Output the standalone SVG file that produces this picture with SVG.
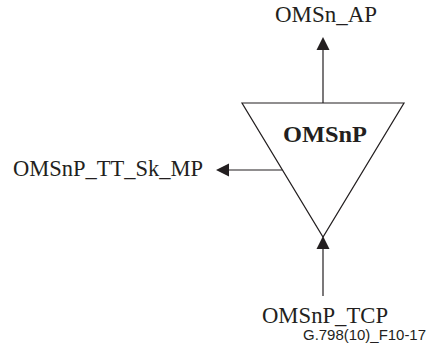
<svg xmlns="http://www.w3.org/2000/svg" width="435" height="351" viewBox="0 0 435 351">
<style>
.lbl{font-family:"Liberation Serif","Times New Roman",serif;font-size:22.5px;fill:#231f20}
.b{font-weight:bold;font-size:23px}
.ref{font-family:"Liberation Sans",Arial,sans-serif;font-size:15px;fill:#231f20}
.ln{stroke:#231f20;stroke-width:1.2;fill:none}
.ah{fill:#231f20}
</style>
<rect width="435" height="351" fill="#fff"/>
<g id="node-omsnp">
<polygon class="ln" points="242,103 404,103 323,237"/>
<text class="lbl b" x="325" y="142" text-anchor="middle" textLength="84" lengthAdjust="spacingAndGlyphs">OMSnP</text>
</g>
<g id="label-ap"><text class="lbl" x="275" y="22" textLength="102" lengthAdjust="spacingAndGlyphs">OMSn_AP</text></g>
<g id="label-mp"><text class="lbl" x="13" y="176" textLength="190" lengthAdjust="spacingAndGlyphs">OMSnP_TT_Sk_MP</text></g>
<g id="label-tcp"><text class="lbl" x="262" y="323" textLength="126" lengthAdjust="spacingAndGlyphs">OMSnP_TCP</text></g>
<g id="fig-ref"><text class="ref" x="303" y="340" textLength="123" lengthAdjust="spacingAndGlyphs">G.798(10)_F10-17</text></g>
<g id="connectors">
<line class="ln" x1="323" y1="103" x2="323" y2="48"/>
<polygon class="ah" points="323,37 316.5,50 329.5,50"/>
<line class="ln" x1="282" y1="170" x2="226" y2="170"/>
<polygon class="ah" points="216,170 229,163.5 229,176.5"/>
<line class="ln" x1="323" y1="296" x2="323" y2="246"/>
<polygon class="ah" points="323,236 316.5,249 329.5,249"/>
</g>
</svg>
